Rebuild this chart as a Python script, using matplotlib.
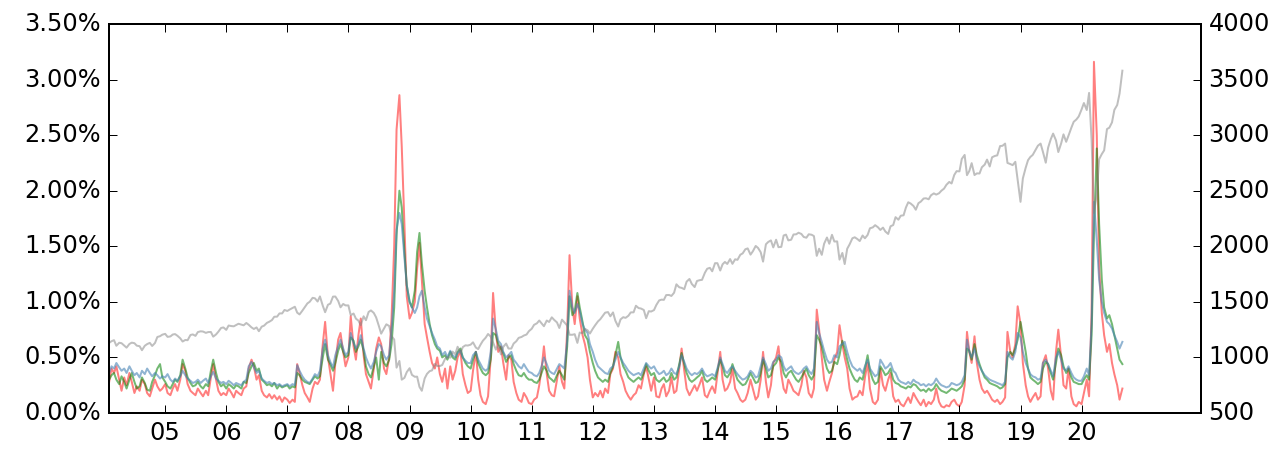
import matplotlib
matplotlib.use("Agg")
import matplotlib.pyplot as plt
import pandas as pd

# semi-monthly sample points (1st and 15th), Feb 2004 .. Sep 2020
dates = pd.date_range("2004-02-01", "2020-09-01", freq="SMS")

# S&P 500 level (right axis)
spx = [
    1131, 1146, 1155, 1105, 1132, 1128, 1107, 1088, 1121, 1133, 1128, 1106, 1101, 1065, 1105, 1120, 1131, 1103, 1130, 1184, 1191, 1205,  # 04
    1212, 1185, 1189, 1206, 1210, 1195, 1172, 1143, 1157, 1155, 1202, 1207, 1194, 1228, 1235, 1233, 1221, 1228, 1229, 1187, 1207, 1232, 1265, 1270,  # 05
    1248, 1287, 1282, 1280, 1291, 1303, 1295, 1289, 1310, 1294, 1270, 1256, 1270, 1236, 1277, 1286, 1311, 1321, 1336, 1366, 1367, 1396, 1396, 1427,  # 06
    1418, 1431, 1445, 1456, 1403, 1387, 1421, 1452, 1486, 1501, 1536, 1532, 1503, 1549, 1465, 1407, 1474, 1484, 1547, 1548, 1508, 1451, 1481, 1468,  # 07
    1468, 1380, 1395, 1349, 1331, 1289, 1370, 1335, 1409, 1423, 1400, 1360, 1284, 1214, 1260, 1298, 1283, 1193, 1161, 908, 968, 800, 816, 868,  # 08
    903, 843, 826, 827, 735, 700, 811, 852, 877, 883, 942, 923, 923, 932, 987, 1004, 998, 1052, 1029, 1096, 1036, 1093, 1109, 1107,  # 09
    1115, 1136, 1089, 1075, 1115, 1150, 1178, 1211, 1187, 1135, 1070, 1115, 1027, 1095, 1125, 1080, 1080, 1125, 1146, 1176, 1184, 1197, 1206, 1236,  # 10
    1258, 1293, 1307, 1332, 1306, 1281, 1332, 1319, 1361, 1338, 1315, 1265, 1340, 1316, 1287, 1204, 1204, 1209, 1131, 1224, 1218, 1257, 1244, 1215,  # 11
    1258, 1289, 1324, 1344, 1374, 1403, 1408, 1370, 1405, 1330, 1278, 1342, 1362, 1356, 1375, 1405, 1406, 1465, 1444, 1440, 1427, 1353, 1416, 1413,  # 12
    1426, 1472, 1513, 1520, 1518, 1561, 1562, 1553, 1582, 1658, 1631, 1626, 1614, 1682, 1706, 1661, 1633, 1688, 1695, 1698, 1761, 1798, 1806, 1775,  # 13
    1848, 1848, 1782, 1838, 1859, 1841, 1885, 1842, 1883, 1878, 1924, 1936, 1973, 1981, 1925, 1955, 2003, 1985, 1946, 1862, 2018, 2039, 2053, 1990,  # 14
    2059, 1992, 1995, 2097, 2105, 2053, 2059, 2106, 2108, 2122, 2111, 2084, 2077, 2108, 2104, 2092, 1914, 1978, 1923, 2023, 2079, 2023, 2103, 2043,  # 15
    2044, 1880, 1940, 1840, 1978, 2016, 2072, 2081, 2065, 2047, 2097, 2072, 2102, 2162, 2170, 2190, 2171, 2147, 2168, 2133, 2111, 2180, 2191, 2262,  # 16
    2239, 2275, 2279, 2349, 2396, 2385, 2363, 2329, 2388, 2402, 2430, 2432, 2423, 2459, 2476, 2465, 2477, 2500, 2519, 2553, 2579, 2565, 2642, 2676,  # 17
    2674, 2786, 2822, 2640, 2678, 2748, 2641, 2656, 2655, 2711, 2735, 2780, 2718, 2801, 2813, 2818, 2902, 2904, 2924, 2750, 2740, 2730, 2760, 2600,  # 18
    2400, 2610, 2707, 2775, 2804, 2822, 2868, 2905, 2924, 2850, 2752, 2887, 2964, 3014, 2953, 2848, 2926, 3007, 2940, 2996, 3067, 3120, 3141, 3168,  # 19
    3231, 3289, 3226, 3380, 2954, 2300, 2470, 2783, 2830, 2863, 3055, 3067, 3115, 3227, 3271, 3373, 3580,  # 20
]

# volatility estimates, in percent (left axis)
vol_red = [
    .28, .40, .36, .42, .30, .20, .32, .25, .36, .28, .18, .24, .20, .30, .26, .18, .15, .22, .30, .24, .20, .22,
    .26, .18, .16, .22, .26, .20, .30, .44, .38, .26, .20, .18, .16, .22, .18, .15, .20, .16, .32, .44, .30, .20, .16, .18,
    .16, .22, .18, .14, .20, .18, .16, .22, .24, .40, .48, .42, .30, .34, .20, .16, .14, .17, .13, .16, .12, .15, .10, .14,
    .12, .09, .12, .10, .44, .36, .25, .18, .14, .10, .22, .28, .26, .30, .62, .82, .50, .36, .20, .45, .66, .72, .55, .42,
    .50, .87, .60, .48, .70, .85, .52, .35, .28, .22, .40, .58, .68, .62, .40, .35, .50, .85, 1.50, 2.55, 2.86, 2.40, 1.70, 1.05,
    .85, .90, 1.00, 1.30, 1.53, 1.20, .80, .68, .55, .45, .40, .50, .35, .28, .40, .22, .42, .30, .38, .50, .56, .35, .25, .18,
    .20, .38, .55, .30, .16, .10, .08, .15, .50, 1.08, .72, .55, .60, .45, .30, .52, .48, .28, .18, .12, .10, .18, .14, .09,
    .08, .12, .14, .25, .40, .60, .35, .20, .16, .15, .30, .42, .28, .22, .75, 1.42, .95, .80, 1.05, .85, .70, .62, .50, .30,
    .14, .18, .15, .20, .14, .22, .18, .35, .40, .55, .50, .35, .28, .20, .15, .12, .16, .18, .25, .22, .35, .42, .30, .20,
    .32, .15, .14, .22, .26, .15, .20, .32, .18, .20, .40, .58, .38, .22, .16, .20, .25, .20, .26, .32, .16, .14, .20, .24,
    .18, .35, .55, .30, .20, .22, .28, .40, .22, .18, .12, .10, .12, .18, .30, .22, .12, .15, .30, .55, .28, .14, .25, .45,
    .50, .60, .35, .22, .18, .30, .25, .20, .18, .16, .25, .38, .32, .18, .14, .22, .93, .75, .50, .30, .20, .28, .36, .48,
    .55, .79, .62, .50, .40, .22, .12, .14, .15, .20, .16, .32, .45, .22, .10, .08, .12, .40, .25, .20, .30, .36, .15, .10,
    .12, .08, .06, .10, .14, .09, .18, .14, .10, .07, .12, .06, .10, .08, .12, .22, .10, .06, .05, .07, .06, .10, .12, .08,
    .06, .10, .25, .73, .55, .45, .69, .45, .30, .22, .18, .20, .16, .12, .10, .12, .08, .10, .14, .73, .55, .50, .62, .96,
    .80, .45, .25, .15, .10, .14, .18, .12, .15, .45, .52, .40, .20, .12, .55, .75, .50, .25, .22, .40, .15, .08, .06, .10,
    .08, .18, .30, .15, .90, 3.16, 2.50, 1.30, .90, .70, .55, .62, .45, .35, .25, .12, .22,
]

vol_green = [
    .30, .34, .36, .30, .26, .33, .28, .22, .30, .36, .28, .22, .24, .32, .27, .21, .20, .28, .34, .40, .44, .32,
    .28, .24, .22, .26, .30, .28, .34, .48, .40, .32, .27, .24, .25, .28, .24, .22, .26, .24, .38, .48, .36, .28, .24, .26,
    .22, .26, .24, .22, .25, .24, .22, .28, .27, .36, .42, .45, .38, .40, .30, .28, .25, .26, .24, .27, .22, .25, .23, .24,
    .25, .22, .24, .23, .36, .34, .30, .28, .27, .26, .30, .33, .31, .33, .50, .62, .48, .44, .38, .45, .56, .62, .55, .50,
    .52, .68, .65, .55, .60, .66, .56, .42, .35, .32, .42, .50, .30, .55, .45, .42, .48, .62, .95, 1.60, 2.00, 1.85, 1.45, 1.15,
    1.00, .95, 1.10, 1.45, 1.62, 1.35, 1.10, .95, .80, .70, .62, .58, .56, .50, .52, .48, .55, .50, .48, .55, .58, .50, .45, .42,
    .40, .48, .55, .45, .40, .36, .34, .36, .48, .72, .70, .62, .58, .54, .46, .50, .52, .44, .38, .34, .33, .36, .32, .30,
    .30, .28, .27, .30, .36, .42, .38, .32, .30, .28, .34, .38, .34, .30, .60, 1.05, .88, .92, 1.08, .95, .82, .70, .66, .55,
    .45, .38, .32, .30, .28, .30, .28, .36, .42, .52, .64, .50, .42, .38, .32, .30, .28, .30, .32, .30, .36, .44, .38, .34,
    .36, .30, .28, .30, .32, .28, .30, .36, .30, .32, .44, .54, .44, .36, .30, .28, .30, .32, .34, .38, .30, .28, .30, .32,
    .30, .38, .48, .42, .34, .32, .36, .44, .36, .30, .27, .25, .26, .30, .36, .32, .27, .28, .36, .48, .40, .32, .34, .42,
    .45, .50, .46, .36, .32, .36, .38, .34, .30, .28, .32, .36, .40, .34, .30, .34, .70, .66, .60, .50, .40, .36, .38, .46,
    .44, .52, .65, .58, .48, .40, .34, .30, .28, .32, .30, .40, .52, .38, .30, .26, .28, .42, .38, .34, .36, .40, .30, .27,
    .26, .24, .23, .22, .24, .23, .26, .25, .22, .20, .21, .19, .22, .20, .22, .26, .22, .20, .19, .18, .20, .22, .21, .20,
    .22, .24, .30, .58, .56, .48, .62, .52, .44, .38, .32, .30, .27, .26, .25, .24, .22, .23, .26, .50, .55, .52, .58, .66,
    .82, .70, .55, .40, .32, .30, .28, .26, .28, .40, .46, .44, .36, .30, .45, .58, .52, .42, .36, .40, .32, .28, .27, .26,
    .26, .30, .34, .30, .70, 1.60, 2.38, 1.70, 1.20, .95, .85, .88, .80, .70, .58, .48, .44,
]

vol_blue = [
    .36, .42, .40, .45, .41, .38, .40, .36, .42, .38, .34, .36, .32, .38, .35, .40, .36, .33, .36, .34, .31, .33,
    .32, .35, .30, .28, .31, .29, .33, .38, .34, .31, .29, .27, .28, .30, .27, .29, .31, .27, .33, .37, .31, .29, .27, .28,
    .26, .29, .27, .25, .27, .26, .25, .28, .30, .42, .46, .41, .36, .38, .31, .29, .27, .28, .26, .27, .25, .26, .24, .25,
    .26, .24, .26, .25, .43, .38, .33, .30, .28, .27, .31, .35, .33, .38, .58, .66, .52, .46, .41, .52, .60, .66, .58, .52,
    .55, .72, .63, .58, .62, .70, .58, .50, .44, .40, .46, .55, .62, .60, .52, .48, .52, .75, 1.10, 1.65, 1.80, 1.70, 1.40, 1.15,
    1.00, .95, .90, .95, 1.05, 1.10, .95, .85, .78, .72, .66, .60, .58, .52, .55, .50, .56, .52, .50, .54, .56, .50, .47, .45,
    .45, .52, .55, .48, .44, .40, .38, .40, .55, .85, .75, .65, .62, .55, .50, .52, .55, .48, .45, .42, .40, .44, .40, .37,
    .36, .34, .33, .36, .42, .50, .44, .38, .36, .35, .40, .44, .42, .40, .65, 1.10, .95, .90, .98, .92, .80, .75, .72, .62,
    .55, .48, .42, .40, .38, .36, .35, .40, .42, .48, .55, .50, .45, .42, .38, .36, .34, .35, .36, .34, .40, .45, .42, .40,
    .42, .38, .35, .36, .38, .34, .36, .40, .36, .35, .42, .52, .46, .40, .36, .34, .36, .35, .37, .40, .35, .33, .34, .35,
    .33, .40, .50, .44, .38, .36, .40, .42, .38, .35, .32, .30, .31, .33, .38, .36, .32, .33, .42, .50, .44, .38, .40, .46,
    .48, .52, .50, .42, .38, .40, .42, .38, .36, .35, .37, .40, .42, .38, .35, .40, .82, .72, .64, .56, .48, .45, .46, .52,
    .50, .60, .62, .64, .55, .48, .42, .40, .38, .40, .36, .42, .48, .40, .36, .33, .35, .48, .44, .40, .42, .45, .38, .36,
    .30, .28, .27, .26, .28, .26, .30, .28, .27, .25, .26, .24, .26, .25, .27, .31, .27, .25, .24, .23, .24, .27, .26, .25,
    .26, .28, .34, .66, .55, .50, .58, .48, .42, .38, .34, .32, .30, .29, .28, .27, .26, .25, .28, .55, .50, .48, .55, .72,
    .68, .55, .45, .40, .35, .33, .32, .30, .31, .45, .48, .44, .38, .33, .50, .55, .48, .40, .38, .42, .36, .32, .30, .29,
    .29, .33, .40, .34, .80, 1.90, 1.55, 1.20, 1.00, .90, .82, .80, .76, .70, .64, .58, .64,
]

for name, s in [("spx", spx), ("red", vol_red), ("green", vol_green), ("blue", vol_blue)]:
    if len(s) != len(dates):
        raise ValueError(f"{name}: {len(s)} values for {len(dates)} dates")

plt.style.use("classic")
fig, ax = plt.subplots(figsize=(1288 / 144, 449 / 144), dpi=144)
fig.subplots_adjust(left=109 / 1288, right=1200.5 / 1288, bottom=36 / 449, top=425 / 449)

ax.plot(dates, vol_red, color="red", alpha=0.5, lw=1.0)
ax.plot(dates, vol_green, color="green", alpha=0.55, lw=1.0)
ax.plot(dates, vol_blue, color="steelblue", alpha=0.6, lw=1.0)
ax.set_ylim(0, 3.5)
ax.set_yticks([i * 0.5 for i in range(8)])
ax.yaxis.set_major_formatter(plt.FuncFormatter(lambda v, p: f"{v:.2f}%"))

ax2 = ax.twinx()
ax2.plot(dates, spx, color="grey", alpha=0.5, lw=1.0)
ax2.set_ylim(500, 4000)
ax2.set_yticks(range(500, 4001, 500))

years = range(2005, 2021)
ax.set_xticks([pd.Timestamp(f"{y}-01-01") for y in years])
ax.set_xticklabels([f"{y % 100:02d}" for y in years])
ax.set_xlim(pd.Timestamp("2004-01-31"), pd.Timestamp("2021-12-12"))

fig.savefig("out.png", dpi=144)
